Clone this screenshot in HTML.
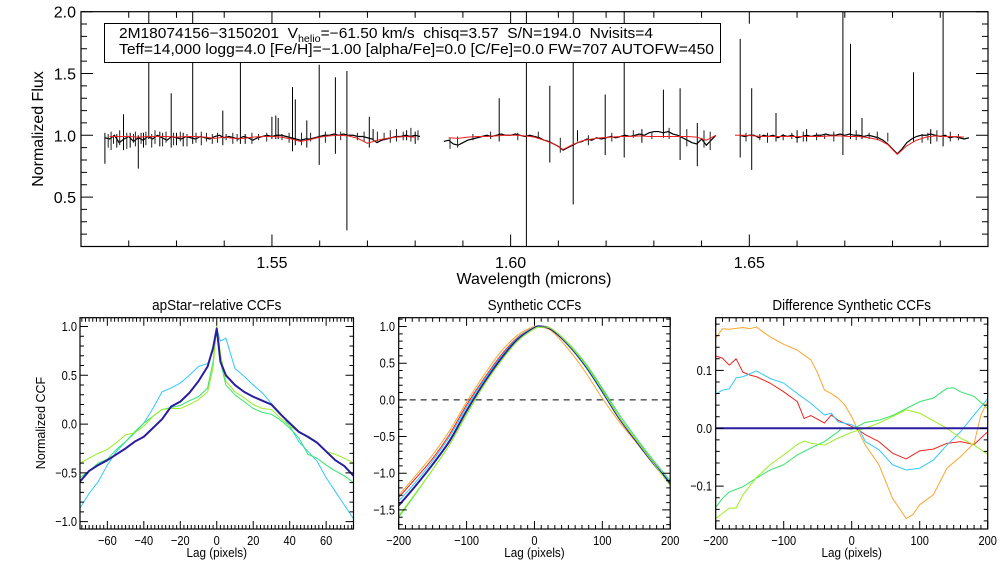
<!DOCTYPE html>
<html><head><meta charset="utf-8"><style>
html,body{margin:0;padding:0;background:#fff;}
svg{display:block;font-family:"Liberation Sans",sans-serif;}
</style></head><body>
<svg id="fig" width="1008" height="576" viewBox="0 0 1008 576" xmlns="http://www.w3.org/2000/svg">
<rect x="0" y="0" width="1008" height="576" fill="#fff"/>
<defs>
<clipPath id="c0"><rect x="81" y="11.7" width="907" height="235"/></clipPath>
<clipPath id="c1"><rect x="80" y="317.7" width="273.5" height="211.3"/></clipPath>
<clipPath id="c2"><rect x="398.7" y="317.7" width="271.5" height="211.3"/></clipPath>
<clipPath id="c3"><rect x="715.7" y="317.7" width="272" height="211.3"/></clipPath>
</defs>
</svg>
<script>
// ---------- TOP SPECTRUM DATA ----------
const seg1Start=1.515, seg1Step=0.001;
const seg1Flux=[0.98,0.97,1.00,0.94,0.97,0.99,0.95,0.98,0.96,0.99,0.97,1.00,0.98,0.96,0.99,0.98,0.97,0.99,0.98,0.97,0.99,0.98,0.97,0.99,1.00,0.98,0.99,0.98,0.97,0.99,0.98,0.96,0.98,0.99,1.00,0.99,1.00,1.00,0.99,0.98,0.97,0.96,0.97,0.97,0.98,0.99,1.00,1.00,1.01,1.00,1.01,1.00,1.00,0.99,0.99,0.98,0.97,0.94,0.96,0.97,0.98,0.99,0.99,1.00,0.99,1.00,0.99];
const seg2Start=1.586, seg2Step=0.001;
const seg2Flux=[0.95,0.96,0.93,0.92,0.94,0.96,0.97,0.98,0.99,1.00,0.99,1.00,1.01,1.00,1.00,1.01,1.00,0.99,1.00,0.99,0.98,0.96,0.95,0.93,0.91,0.88,0.90,0.92,0.94,0.95,0.97,0.96,0.98,0.97,0.98,0.99,0.98,0.99,1.00,0.99,1.00,1.01,1.00,1.02,1.03,1.03,1.02,1.03,1.01,1.00,0.98,0.96,0.94,0.93,0.97,0.92,0.96,1.00];
const seg3Start=1.648, seg3Step=0.001;
const seg3Flux=[1.00,0.99,1.00,1.00,0.98,1.00,0.99,1.00,0.98,1.00,0.99,1.00,0.98,0.99,1.00,0.99,1.00,1.00,1.01,1.00,1.00,1.01,1.00,1.01,1.00,1.00,0.99,1.00,0.99,0.98,0.96,0.93,0.89,0.85,0.89,0.94,0.97,0.99,1.00,1.00,1.01,1.00,0.99,1.00,0.98,0.99,0.98,0.97,0.98];
const model1Start=1.516, model1Step=0.002;
const model1Flux=[0.99,0.99,0.99,0.985,0.99,0.99,0.99,0.985,0.99,0.99,0.985,0.975,0.985,0.975,0.975,0.985,0.99,0.99,0.985,0.97,0.95,0.965,0.985,0.995,1.0,0.995,0.975,0.935,0.96,0.975,0.985,0.99,0.985];
const model2Start=1.587, model2Step=0.002;
const model2Flux=[0.98,0.975,0.985,0.99,0.99,0.995,1.0,1.0,0.995,0.985,0.96,0.93,0.885,0.925,0.955,0.97,0.98,0.985,0.99,0.99,0.995,0.99,0.99,0.99,0.99,0.99,0.985,0.96,1.0];
const model3Start=1.647, model3Step=0.002;
const model3Flux=[1.0,1.0,0.995,0.99,0.99,0.99,0.99,0.99,0.99,0.99,0.995,0.995,0.99,0.99,0.98,0.965,0.925,0.845,0.915,0.96,0.985,0.995,0.99,0.99,0.985];
const spikeWave=[1.5150,1.5189,1.5220,1.5242,1.5289,1.5334,1.5397,1.5434,1.5500,1.5508,1.5543,1.5549,1.5599,1.5633,1.5657,1.5704,1.5976,1.6033,1.6082,1.6131,1.6198,1.6238,1.6320,1.6355,1.6391,1.6481,1.6505,1.6556,1.6696,1.6712,1.6736,1.6844,1.6906,1.5175,1.5203,1.5231,1.5265,1.5300,1.5314,1.5444,1.5513,1.5573,1.5712,1.5782,1.5800,1.6140,1.6275,1.6600,1.6620,1.6880];
const spikeHigh=[1.02,1.17,1.00,2.1,1.34,2.1,1.20,1.62,1.15,1.16,1.39,1.29,1.57,1.47,1.52,1.15,1.30,2.1,1.40,2.1,1.33,2.1,1.37,1.38,1.10,1.78,1.38,1.18,2.1,1.74,1.14,1.51,2.1,1.01,1.02,1.02,1.03,1.02,1.02,1.01,1.14,1.12,1.05,1.04,1.03,1.04,1.05,1.04,1.05,1.05];
const spikeLow=[0.77,0.88,0.73,0.97,0.90,0.93,0.92,0.93,0.97,0.97,0.87,0.92,0.76,0.85,0.23,0.90,0.95,0.05,0.78,0.44,0.84,0.82,0.98,0.80,0.75,0.82,0.72,0.95,0.84,0.97,0.97,0.95,0.91,0.90,0.90,0.90,0.91,0.92,0.91,0.93,0.97,0.90,0.97,0.96,0.93,0.95,0.94,0.94,0.95,0.93];
// small noise features (hand-read)
const noiseWave=[1.5157,1.5163,1.5168,1.5181,1.5196,1.5210,1.5214,1.5226,1.5236,1.5248,1.5255,1.5271,1.5278,1.5294,1.5308,1.5322,1.5341,1.5352,1.5363,1.5375,1.5386,1.5404,1.5418,1.5427,1.5458,1.5472,1.5489,1.5521,1.5536,1.5562,1.5581,1.5612,1.5644,1.5679,1.5693,1.5721,1.5735,1.5748,1.5761,1.5775,1.5791,1.5806,1.5873,1.5889,1.5921,1.5958,1.6015,1.6058,1.6104,1.6163,1.6212,1.6257,1.6296,1.6332,1.6369,1.6405,1.6418,1.6493,1.6522,1.6538,1.6571,1.6589,1.6613,1.6641,1.6658,1.6677,1.6724,1.6751,1.6768,1.6790,1.6862,1.6874,1.6893,1.6921,1.6938];
const noiseHigh=[1.01,1.03,1.00,1.04,1.02,1.01,1.03,1.02,1.03,1.01,1.04,1.02,1.03,1.02,1.03,1.01,1.02,1.03,1.02,1.01,1.02,1.01,1.02,1.01,1.02,1.01,1.02,1.01,1.02,1.02,1.02,1.03,1.03,1.02,1.03,1.03,1.02,1.04,1.05,1.03,1.06,1.04,0.98,0.99,1.01,1.03,1.02,1.03,0.98,1.00,1.02,1.04,1.03,1.06,1.05,1.04,1.03,1.02,1.01,1.02,1.01,1.02,1.03,1.02,1.01,1.03,1.04,1.02,1.03,1.02,1.01,1.02,1.04,1.03,1.01];
const noiseLow=[0.90,0.88,0.93,0.92,0.89,0.94,0.91,0.93,0.92,0.90,0.93,0.91,0.94,0.92,0.95,0.91,0.94,0.92,0.95,0.93,0.94,0.96,0.93,0.95,0.93,0.96,0.95,0.96,0.94,0.92,0.95,0.94,0.96,0.96,0.95,0.95,0.96,0.94,0.95,0.96,0.95,0.96,0.89,0.90,0.96,0.97,0.96,0.97,0.86,0.92,0.95,0.98,0.97,0.97,0.91,0.90,0.88,0.95,0.96,0.94,0.96,0.97,0.95,0.96,0.97,0.95,0.96,0.97,0.96,0.95,0.94,0.96,0.95,0.95,0.96];
const topXTicks=["1.55","1.60","1.65"];
const topYTicks=["0.5","1.0","1.5","2.0"];

// ---------- CCF DATA ----------
const apLags=[-75,-70,-65,-60,-55,-50,-45,-40,-35,-30,-25,-20,-15,-10,-5,-2,0,2,5,10,15,20,25,30,35,40,45,50,55,60,65,70,75];
const apBlue=[-0.59,-0.48,-0.42,-0.37,-0.31,-0.25,-0.18,-0.13,-0.04,0.05,0.18,0.23,0.32,0.44,0.59,0.78,0.98,0.64,0.50,0.40,0.33,0.28,0.24,0.20,0.10,0.01,-0.08,-0.13,-0.19,-0.28,-0.37,-0.43,-0.53];
const apCyan=[-0.86,-0.71,-0.59,-0.42,-0.28,-0.18,-0.09,0.01,0.16,0.33,0.37,0.42,0.50,0.59,0.62,0.75,0.98,0.85,0.88,0.57,0.49,0.40,0.32,0.21,0.11,-0.02,-0.18,-0.28,-0.38,-0.55,-0.69,-0.83,-0.97];
const apGreen=[-0.55,-0.48,-0.40,-0.36,-0.26,-0.18,-0.08,0.01,0.08,0.15,0.17,0.19,0.24,0.28,0.37,0.64,1.00,0.64,0.40,0.30,0.23,0.16,0.12,0.10,0.04,-0.04,-0.14,-0.31,-0.35,-0.42,-0.48,-0.53,-0.60];
const apYellow=[-0.40,-0.35,-0.30,-0.26,-0.19,-0.11,-0.09,-0.02,0.08,0.15,0.16,0.16,0.20,0.25,0.33,0.58,1.00,0.73,0.44,0.33,0.27,0.20,0.16,0.15,0.06,-0.02,-0.08,-0.14,-0.19,-0.28,-0.31,-0.35,-0.40];
const apXTicks=["\u221260","\u221240","\u221220","0","20","40","60"];
const apYTicks=["\u22121.0","\u22120.5","0.0","0.5","1.0"];

const synLags=[-200,-175,-150,-125,-100,-75,-50,-25,0,10,25,50,75,100,125,150,175,200];
const synBlue=[-1.44,-1.17,-0.88,-0.56,-0.15,0.22,0.55,0.82,0.98,1.0,0.96,0.75,0.47,0.12,-0.25,-0.56,-0.86,-1.14];
const synCyan=[-1.38,-1.12,-0.83,-0.50,-0.10,0.26,0.58,0.84,0.99,1.0,0.96,0.74,0.45,0.10,-0.26,-0.56,-0.86,-1.13];
const synRed=[-1.33,-1.07,-0.80,-0.47,-0.07,0.28,0.60,0.85,0.99,1.0,0.97,0.76,0.47,0.12,-0.25,-0.56,-0.87,-1.15];
const synOrange=[-1.30,-1.03,-0.75,-0.42,-0.03,0.33,0.65,0.88,1.00,0.99,0.94,0.69,0.38,0.02,-0.30,-0.58,-0.87,-1.14];
const synGreen=[-1.60,-1.28,-0.95,-0.61,-0.20,0.19,0.52,0.80,0.97,0.99,0.97,0.77,0.50,0.16,-0.20,-0.52,-0.82,-1.10];
const synYellow=[-1.58,-1.27,-0.95,-0.61,-0.19,0.19,0.52,0.80,0.97,0.99,0.97,0.76,0.48,0.13,-0.24,-0.55,-0.86,-1.17];
const synXTicks=["\u2212200","\u2212100","0","100","200"];
const synYTicks=["\u22121.5","\u22121.0","\u22120.5","0.0","0.5","1.0"];

const dOrangeLags=[-200,-190,-180,-160,-150,-140,-130,-120,-100,-80,-60,-50,-40,-30,-20,-10,0,10,20,40,60,70,80,90,100,120,140,160,180,190,200];
const dOrange=[0.156,0.172,0.171,0.174,0.172,0.175,0.166,0.158,0.145,0.135,0.118,0.095,0.066,0.060,0.052,0.040,0.020,-0.006,-0.029,-0.063,-0.121,-0.138,-0.156,-0.149,-0.132,-0.115,-0.069,-0.049,-0.026,0.023,0.047];
const dRedLags=[-200,-190,-180,-170,-160,-150,-140,-120,-100,-80,-70,-60,-40,-30,-20,0,10,20,40,60,80,100,120,140,160,180,200];
const dRed=[0.125,0.121,0.109,0.120,0.097,0.092,0.089,0.078,0.063,0.046,0.017,0.022,0.009,0.023,0.014,0.003,-0.003,-0.011,-0.023,-0.043,-0.053,-0.039,-0.036,-0.026,-0.023,-0.028,-0.006];
const dCyanLags=[-200,-190,-180,-170,-160,-140,-120,-100,-80,-60,-40,-30,-20,0,10,20,40,60,80,100,120,140,160,180,200];
const dCyan=[0.059,0.066,0.068,0.087,0.089,0.099,0.086,0.078,0.060,0.043,0.023,0.026,0.011,0.006,0.0,-0.023,-0.037,-0.063,-0.072,-0.069,-0.055,-0.029,-0.006,0.023,0.051];
const dGreenLags=[-200,-190,-180,-160,-140,-120,-100,-80,-60,-40,-20,-15,0,20,40,60,80,100,120,140,150,160,180,200];
const dGreen=[-0.137,-0.121,-0.110,-0.101,-0.086,-0.072,-0.063,-0.046,-0.034,-0.023,-0.006,0.0,-0.002,0.010,0.014,0.022,0.034,0.046,0.052,0.069,0.070,0.063,0.055,0.034];
const dYellowLags=[-200,-190,-180,-170,-160,-140,-120,-100,-80,-70,-60,-40,-20,0,20,40,60,80,100,120,140,160,180,200];
const dYellow=[-0.156,-0.147,-0.138,-0.138,-0.115,-0.085,-0.063,-0.046,-0.028,-0.022,-0.026,-0.029,-0.017,-0.007,0.0,0.009,0.020,0.032,0.026,0.013,0.0,-0.017,-0.029,-0.045];
const diffXTicks=["\u2212200","\u2212100","0","100","200"];
const diffYTicks=["\u22120.1","0.0","0.1"];

// ---------- RENDERING ----------
const NS="http://www.w3.org/2000/svg";
const svg=document.getElementById('fig');
function mk(tag,attrs,parent){const e=document.createElementNS(NS,tag);for(const k in attrs)e.setAttribute(k,attrs[k]);(parent||svg).appendChild(e);return e;}
function lin(d0,d1,r0,r1){return v=>r0+(v-d0)/(d1-d0)*(r1-r0);}
function parseNum(s){return parseFloat(s.replace('\u2212','-'));}
function polyD(xs,ys,sx,sy){let d='';for(let i=0;i<xs.length;i++){d+=(i?'L':'M')+sx(xs[i]).toFixed(2)+','+sy(ys[i]).toFixed(2);}return d;}
function smoothD(xs,ys,sx,sy){const p=xs.map((x,i)=>[sx(x),sy(ys[i])]);let d='M'+p[0][0]+','+p[0][1];for(let i=0;i<p.length-1;i++){const p0=p[Math.max(0,i-1)],p1=p[i],p2=p[i+1],p3=p[Math.min(p.length-1,i+2)];const c1=[p1[0]+(p2[0]-p0[0])/6,p1[1]+(p2[1]-p0[1])/6];const c2=[p2[0]-(p3[0]-p1[0])/6,p2[1]-(p3[1]-p1[1])/6];d+='C'+c1.join(',')+' '+c2.join(',')+' '+p2.join(',');}return d;}
function gridSeries(start,step,vals){return vals.map((v,i)=>start+i*step);}

function ticks(g,box,sx,sy,xmin,xmax,xminor,xmajor,ymin,ymax,yminor,ymajor,lenMaj,lenMin){
  let d='';
  const nx=Math.round((xmax-xmin)/xminor);
  for(let i=0;i<=nx;i++){const v=xmin+i*xminor;const X=sx(v);const maj=Math.abs(v/xmajor-Math.round(v/xmajor))<1e-6;const L=maj?lenMaj:lenMin;d+=`M${X},${box.b}v${-L}M${X},${box.t}v${L}`;}
  const ny=Math.round((ymax-ymin)/yminor);
  for(let i=0;i<=ny;i++){const v=ymin+i*yminor;const Y=sy(v);const maj=Math.abs(v/ymajor-Math.round(v/ymajor))<1e-6;const L=maj?lenMaj:lenMin;d+=`M${box.l},${Y}h${L}M${box.r},${Y}h${-L}`;}
  return mk('path',{d:d,stroke:'#000','stroke-width':1,fill:'none'},g);
}
function spikePath(ws,hs,ls,sx,sy){let d='';for(let i=0;i<ws.length;i++){const X=sx(ws[i]).toFixed(1);d+=`M${X},${sy(hs[i]).toFixed(1)}V${sy(ls[i]).toFixed(1)}`;}return d;}

// ===== TOP PANEL =====
const topBox={l:81,r:988,t:11.7,b:246.5};
const tx=lin(1.51,1.70,topBox.l,topBox.r), ty=lin(0.1,2.0,topBox.b,topBox.t);
const gTop=mk('g',{});


const gSpec=mk('g',{'clip-path':'url(#c0)'},gTop);
[[seg1Start,seg1Step,seg1Flux],[seg2Start,seg2Step,seg2Flux],[seg3Start,seg3Step,seg3Flux]].forEach((s,k)=>{
  const p=mk('path',{d:polyD(gridSeries(s[0],s[1],s[2]),s[2],tx,ty),stroke:'#000','stroke-width':1.2,fill:'none'},gSpec);
  
  
});
{const sp=mk('path',{d:spikePath(noiseWave,noiseHigh,noiseLow,tx,ty),stroke:'#222','stroke-width':1,fill:'none'},gSpec);

}
{const sp=mk('path',{d:spikePath(spikeWave,spikeHigh,spikeLow,tx,ty),stroke:'#000','stroke-width':1,fill:'none'},gSpec);

}
[[model1Start,model1Step,model1Flux],[model2Start,model2Step,model2Flux],[model3Start,model3Step,model3Flux]].forEach((s,k)=>{
  const p=mk('path',{d:polyD(gridSeries(s[0],s[1],s[2]),s[2],tx,ty),stroke:'#f02020','stroke-width':1,fill:'none'},gSpec);
  
  
});
{const fr=mk('rect',{x:topBox.l,y:topBox.t,width:topBox.r-topBox.l,height:topBox.b-topBox.t,fill:'none',stroke:'#000','stroke-width':1.2},gTop);

}
{const tk=ticks(gTop,topBox,tx,ty,1.51,1.70,0.01,0.05,0.1,2.0,0.1,0.5,12,6);

}
topXTicks.forEach(s=>{const t=mk('text',{x:tx(parseNum(s)),y:268,'font-size':16,'text-anchor':'middle'},gTop);t.textContent=s;

});
topYTicks.forEach(s=>{const t=mk('text',{x:76,y:ty(parseNum(s))+6,'font-size':16,'text-anchor':'end'},gTop);t.textContent=s;

});
{const t=mk('text',{x:534,y:284,'font-size':16,'text-anchor':'middle'},gTop);t.textContent='Wavelength (microns)';

}
{const t=mk('text',{x:0,y:0,'font-size':16,'text-anchor':'middle',transform:'translate(43,129) rotate(-90)'},gTop);t.textContent='Normalized Flux';

}
{const bx=mk('rect',{x:104.5,y:23.5,width:616,height:39,fill:'#fff',stroke:'#000','stroke-width':1},gTop);


const t1=mk('text',{x:119,y:38,'font-size':14.5,textLength:534,lengthAdjust:'spacingAndGlyphs'},gTop);


const a=mk('tspan',{},t1);a.textContent='2M18074156\u22123150201\u00a0\u00a0V';
const b=mk('tspan',{'font-size':10,dy:4},t1);b.textContent='helio';
const c=mk('tspan',{dy:-4},t1);c.textContent='=\u221261.50 km/s\u00a0\u00a0chisq=3.57\u00a0\u00a0S/N=194.0\u00a0\u00a0Nvisits=4';
const t2=mk('text',{x:119,y:54,'font-size':14.5,textLength:595,lengthAdjust:'spacingAndGlyphs'},gTop);
t2.textContent='Teff=14,000 logg=4.0 [Fe/H]=\u22121.00 [alpha/Fe]=0.0 [C/Fe]=0.0 FW=707 AUTOFW=450';

}

// ===== BOTTOM PANELS =====
function panel(name,box,clip,xd,yd,xminor,xmajor,yminor,ymajor,xt,yt,title,labelRight){
  const g=mk('g',{});
  
  
  const sx=lin(xd[0],xd[1],box.l,box.r), sy=lin(yd[0],yd[1],box.b,box.t);
  const inner=mk('g',{'clip-path':'url(#'+clip+')'},g);
  const fr=mk('rect',{x:box.l,y:box.t,width:box.r-box.l,height:box.b-box.t,fill:'none',stroke:'#000','stroke-width':1.2},g);
  
  
  const tk=ticks(g,box,sx,sy,Math.ceil(xd[0]/xminor)*xminor,Math.floor(xd[1]/xminor)*xminor,xminor,xmajor,Math.ceil(yd[0]/yminor-1e-9)*yminor,Math.floor(yd[1]/yminor+1e-9)*yminor,yminor,ymajor,8,4);
  
  
  xt.forEach(s=>{const X=sx(parseNum(s));const t=mk('text',{x:0,y:0,'font-size':13,'text-anchor':'middle',transform:`translate(${X},545) scale(0.85,1)`},g);t.textContent=s;
  
  });
  yt.forEach(s=>{const t=mk('text',{x:0,y:0,'font-size':13,'text-anchor':'end',transform:`translate(${labelRight},${sy(parseNum(s))+4.5}) scale(0.85,1)`},g);t.textContent=s;
  
  });
  const xl=mk('text',{x:0,y:0,'font-size':13,'text-anchor':'middle',transform:`translate(${(box.l+box.r)/2},557) scale(0.9,1)`},g);xl.textContent='Lag (pixels)';
  
  
  const ti=mk('text',{x:0,y:0,'font-size':15,'text-anchor':'middle',transform:`translate(${(box.l+box.r)/2},310) scale(0.9,1)`},g);ti.textContent=title;
  
  
  return {g:inner,sx:sx,sy:sy};
}
function line(P,d,color,w,nm){const p=mk('path',{d:d,stroke:color,'stroke-width':w,fill:'none','stroke-linejoin':'round'},P.g);

return p;}

const P1=panel('apstar-ccf-panel',{l:80,r:353.5,t:317.7,b:529},'c1',[-75,75],[-1.075,1.09],2,20,0.1,0.5,apXTicks,apYTicks,'apStar\u2212relative CCFs',77);
line(P1,polyD(apLags,apCyan,P1.sx,P1.sy),'#33c8ff',1,'ccf-line-cyan');
line(P1,polyD(apLags,apGreen,P1.sx,P1.sy),'#33e46a',1,'ccf-line-green');
line(P1,polyD(apLags,apYellow,P1.sx,P1.sy),'#99ee22',1,'ccf-line-yellowgreen');
line(P1,polyD(apLags,apBlue,P1.sx,P1.sy),'#2a1ea0',2,'ccf-line-darkblue');
{const t=mk('text',{x:0,y:0,'font-size':12.5,'text-anchor':'middle',transform:'translate(45,423) rotate(-90)'});t.textContent='Normalized CCF';

}

const P2=panel('synthetic-ccf-panel',{l:398.7,r:670.2,t:317.7,b:529},'c2',[-200,200],[-1.76,1.12],10,100,0.1,0.5,synXTicks,synYTicks,'Synthetic CCFs',395);
line(P2,`M${P2.sx(-200)},${P2.sy(0)}H${P2.sx(200)}`,'#000',1,'zero-dashed-line').setAttribute('stroke-dasharray','6,5');
line(P2,smoothD(synLags,synOrange,P2.sx,P2.sy),'#ffa530',1,'synthetic-ccf-orange');
line(P2,smoothD(synLags,synRed,P2.sx,P2.sy),'#ee2222',1,'synthetic-ccf-red');
line(P2,smoothD(synLags,synCyan,P2.sx,P2.sy),'#33c8ff',1,'synthetic-ccf-cyan');
line(P2,smoothD(synLags,synBlue,P2.sx,P2.sy),'#2a1ea0',2,'synthetic-ccf-darkblue');
line(P2,smoothD(synLags,synGreen,P2.sx,P2.sy),'#33e46a',1,'synthetic-ccf-green');
line(P2,smoothD(synLags,synYellow,P2.sx,P2.sy),'#99ee22',1,'synthetic-ccf-yellowgreen');

const P3=panel('difference-ccf-panel',{l:715.7,r:987.7,t:317.7,b:529},'c3',[-200,200],[-0.174,0.191],10,100,0.02,0.1,diffXTicks,diffYTicks,'Difference Synthetic CCFs',712);
line(P3,`M${P3.sx(-200)},${P3.sy(0)}H${P3.sx(200)}`,'#000',1,'zero-dashed-line').setAttribute('stroke-dasharray','6,5');
line(P3,polyD(dOrangeLags,dOrange,P3.sx,P3.sy),'#ffa530',1,'difference-ccf-orange');
line(P3,polyD(dRedLags,dRed,P3.sx,P3.sy),'#ee2222',1,'difference-ccf-red');
line(P3,polyD(dCyanLags,dCyan,P3.sx,P3.sy),'#33c8ff',1,'difference-ccf-cyan');
line(P3,polyD(dGreenLags,dGreen,P3.sx,P3.sy),'#33e46a',1,'difference-ccf-green');
line(P3,polyD(dYellowLags,dYellow,P3.sx,P3.sy),'#99ee22',1,'difference-ccf-yellowgreen');
line(P3,`M${P3.sx(-200)},${P3.sy(0)}H${P3.sx(200)}`,'#2a1ea0',2,'difference-ccf-darkblue');
</script>
</body></html>
